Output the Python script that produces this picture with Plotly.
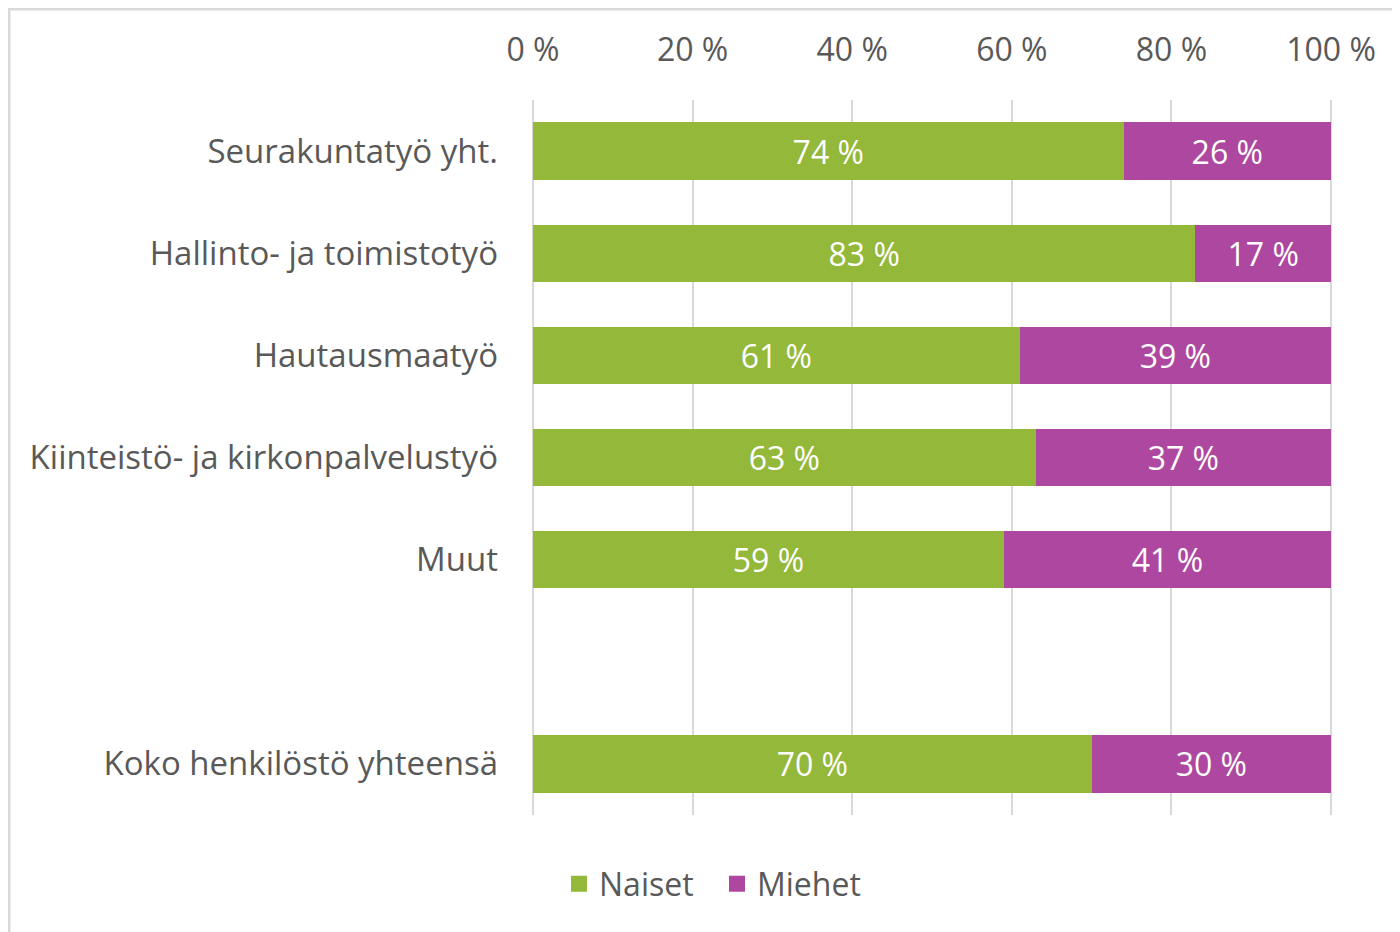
import plotly.graph_objects as go

categories = ["Seurakuntatyö yht.", "Hallinto- ja toimistotyö", "Hautausmaatyö",
              "Kiinteistö- ja kirkonpalvelustyö", "Muut", " ", "Koko henkilöstö yhteensä"]
naiset = [74, 83, 61, 63, 59, None, 70]
miehet = [26, 17, 39, 37, 41, None, 30]
tick_vals = [0, 20, 40, 60, 80, 100]
tick_text = ["0 %", "20 %", "40 %", "60 %", "80 %", "100 %"]
series_names = ["Naiset", "Miehet"]

GREEN = "#93B83A"
PURPLE = "#AE47A0"
GRAY = "#595959"
FONT = "Open Sans"
FS = 32

# layout geometry (figure pixels)
L, T, PW, PH = 525, 92, 800, 715
W, H = 1400, 932

def labels(vals):
    return ["" if v is None else f"{v} %" for v in vals]

fig = go.Figure()
for vals, name, col in [(naiset, series_names[0], GREEN), (miehet, series_names[1], PURPLE)]:
    fig.add_trace(go.Bar(y=categories, x=vals, name=name, orientation="h",
                         marker=dict(color=col, line=dict(width=0)),
                         text=labels(vals), textposition="inside", insidetextanchor="middle",
                         textfont=dict(color="white", size=FS, family=FONT),
                         hoverinfo="skip", showlegend=False))
# legend entries with larger square markers
for name, col in [(series_names[0], GREEN), (series_names[1], PURPLE)]:
    fig.add_trace(go.Scatter(x=[None], y=[None], mode="markers", name=name,
                             marker=dict(symbol="square", size=22, color=col),
                             showlegend=True, hoverinfo="skip"))

fig.update_layout(
    width=W, height=H,
    barmode="stack", bargap=0.44,
    paper_bgcolor="white", plot_bgcolor="white",
    font=dict(family=FONT, color=GRAY, size=FS),
    margin=dict(l=L, r=W - L - PW, t=T, b=H - T - PH, pad=0),
    showlegend=True,
    legend=dict(orientation="h", x=(551 - L) / PW, xanchor="left",
                y=-(876 - (T + PH)) / PH, yanchor="middle",
                font=dict(size=FS, color=GRAY, family=FONT),
                itemwidth=30, entrywidth=113, tracegroupgap=0, traceorder="normal",
                bgcolor="rgba(0,0,0,0)"),
    uniformtext=dict(mode=None),
)
fig.update_xaxes(side="top", range=[0, 100.25], tickvals=tick_vals, ticktext=tick_text,
                 showgrid=True, gridcolor="#D9D9D9", gridwidth=2,
                 zeroline=True, zerolinecolor="#D9D9D9", zerolinewidth=2,
                 showline=False, ticks="", ticklabelstandoff=32,
                 tickfont=dict(size=FS, color=GRAY, family=FONT))
fig.update_yaxes(categoryorder="array", categoryarray=categories, autorange="reversed",
                 showgrid=False, zeroline=False, showline=False, ticks="",
                 ticklabelstandoff=34, tickfont=dict(size=33, color=GRAY, family=FONT))

# outer chart frame (light gray border at top and left)
fig.add_shape(type="rect", xref="paper", yref="paper",
              x0=(1 - L) / PW, x1=(W + 20 - L) / PW,
              y0=-(H + 20 - (T + PH)) / PH, y1=(T + PH - 1) / PH,
              line=dict(color="#D9D9D9", width=3), fillcolor="rgba(0,0,0,0)", layer="below")

fig.write_html("out.html")
